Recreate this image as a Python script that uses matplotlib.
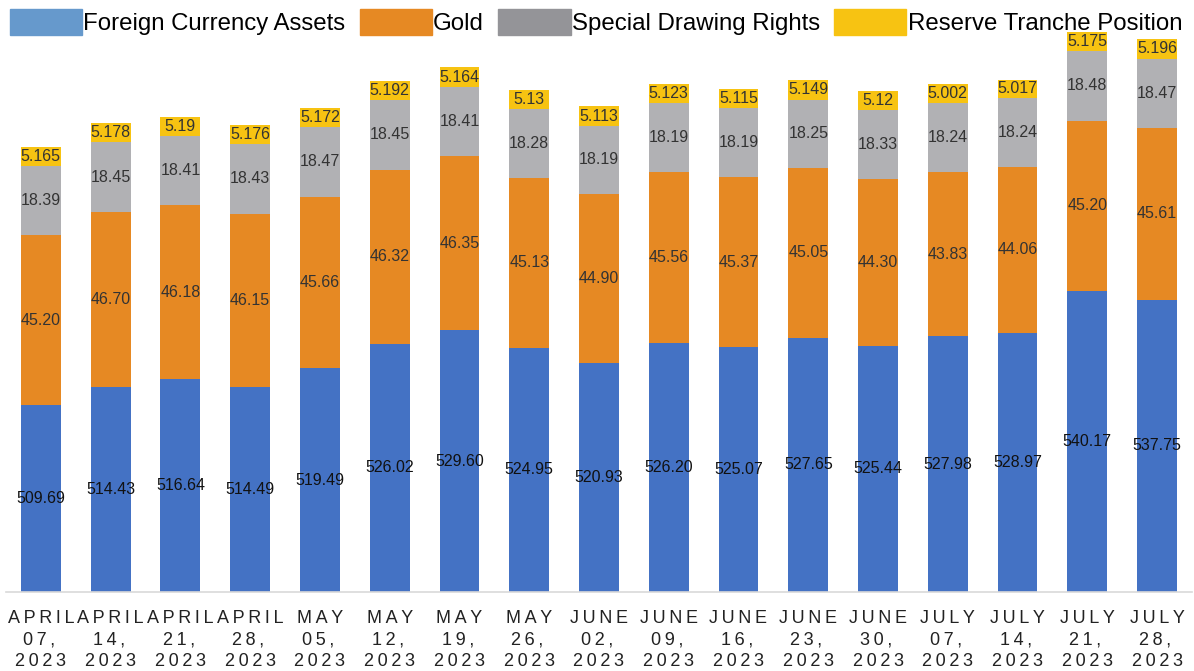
import matplotlib
matplotlib.use('Agg')
import matplotlib.pyplot as plt
import matplotlib.patches as mpatches
import numpy as np

plt.rcParams['font.family'] = ['Liberation Sans', 'DejaVu Sans']

# data
months = ['APRIL', 'APRIL', 'APRIL', 'APRIL', 'MAY', 'MAY', 'MAY', 'MAY', 'JUNE',
          'JUNE', 'JUNE', 'JUNE', 'JUNE', 'JULY', 'JULY', 'JULY', 'JULY']
days = ['07', '14', '21', '28', '05', '12', '19', '26', '02',
        '09', '16', '23', '30', '07', '14', '21', '28']
fca = [509.69, 514.43, 516.64, 514.49, 519.49, 526.02, 529.60, 524.95, 520.93,
       526.20, 525.07, 527.65, 525.44, 527.98, 528.97, 540.17, 537.75]
gold = [45.20, 46.70, 46.18, 46.15, 45.66, 46.32, 46.35, 45.13, 44.90,
        45.56, 45.37, 45.05, 44.30, 43.83, 44.06, 45.20, 45.61]
sdr = [18.39, 18.45, 18.41, 18.43, 18.47, 18.45, 18.41, 18.28, 18.19,
       18.19, 18.19, 18.25, 18.33, 18.24, 18.24, 18.48, 18.47]
rtp = [5.165, 5.178, 5.19, 5.176, 5.172, 5.192, 5.164, 5.13, 5.113,
       5.123, 5.115, 5.149, 5.12, 5.002, 5.017, 5.175, 5.196]

def spaced(s):
    # wide letter spacing like the original axis labels
    return '\u2009'.join(s)

labels = [spaced(m) + '\n' + spaced(d + ',') + '\u2009\n' + spaced('2023')
          for m, d in zip(months, days)]

ymin = 460
fig = plt.figure(figsize=(11.94, 6.71), dpi=100)
ax = fig.add_axes([0.005, 0.1177, 0.9933, 0.8376])

x = np.arange(len(fca))
w = 0.57
c_fca, c_gold, c_sdr, c_rtp = '#4472C4', '#E68923', '#B1B1B4', '#F7C312'

# blue part starts at the cut-off axis minimum
fca_vis = [v - ymin for v in fca]
b1 = ax.bar(x, fca_vis, w, bottom=ymin, color=c_fca, linewidth=0)
bot = np.array(fca)
b2 = ax.bar(x, gold, w, bottom=bot, color=c_gold, linewidth=0)
bot = bot + np.array(gold)
b3 = ax.bar(x, sdr, w, bottom=bot, color=c_sdr, linewidth=0)
bot = bot + np.array(sdr)
b4 = ax.bar(x, rtp, w, bottom=bot, color=c_rtp, linewidth=0)

ax.bar_label(b1, labels=['%.2f' % v for v in fca], label_type='center',
             fontsize=11.5, color='#111111')
ax.bar_label(b2, labels=['%.2f' % v for v in gold], label_type='center',
             fontsize=11.5, color='#333333')
ax.bar_label(b3, labels=['%.2f' % v for v in sdr], label_type='center',
             fontsize=11.5, color='#333333')
ax.bar_label(b4, labels=['%g' % v for v in rtp], label_type='center',
             fontsize=11.5, color='#333333')

ax.set_xlim(-0.5, len(fca) - 0.5)
ax.set_ylim(ymin, ymin + 562 / 3.76)
ax.set_xticks(x)
ax.set_xticklabels(labels, fontsize=13, color='#222222', linespacing=1.33)
ax.tick_params(axis='x', length=0, pad=13)
ax.set_yticks([])
for s in ['top', 'left', 'right']:
    ax.spines[s].set_visible(False)
ax.spines['bottom'].set_color('#d9d9d9')
ax.spines['bottom'].set_linewidth(1.2)

# legend patches use a lighter blue than the bars
handles = [mpatches.Patch(color='#6699CC', label='Foreign Currency Assets'),
           mpatches.Patch(color=c_gold, label='Gold'),
           mpatches.Patch(color='#949498', label='Special Drawing Rights'),
           mpatches.Patch(color=c_rtp, label='Reserve Tranche Position')]
fig.legend(handles=handles, loc='upper left', bbox_to_anchor=(0.0084, 0.986),
           ncol=4, frameon=False, fontsize=17.3, handlelength=3.0, handleheight=1.25,
           handletextpad=0.05, columnspacing=0.6, borderpad=0, borderaxespad=0)

fig.savefig('out.png', dpi=100)
